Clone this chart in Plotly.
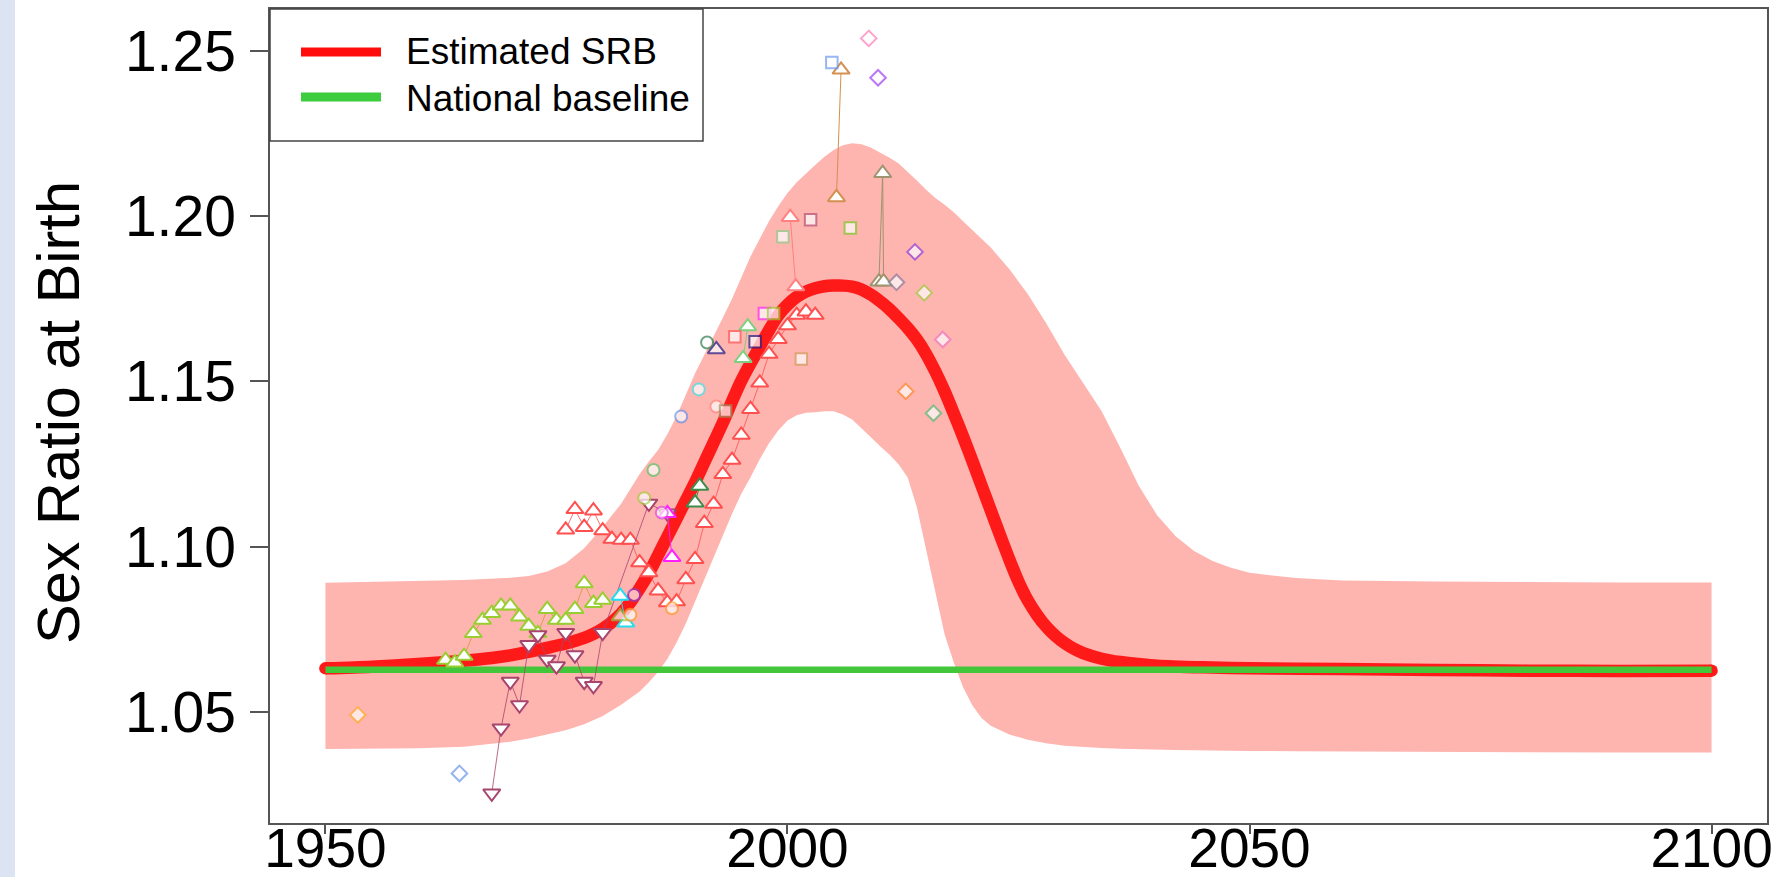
import plotly.graph_objects as go

# ---------------- data ----------------
srb_years = [1950, 1955, 1960, 1965, 1968, 1970, 1972, 1974, 1976, 1978, 1979, 1980, 1981, 1982, 1983,
             1984, 1985, 1986, 1987, 1988, 1989, 1990, 1991, 1992, 1993, 1994, 1995, 1996, 1997, 1998,
             1999, 2000, 2001, 2002, 2003, 2004, 2005, 2006, 2007, 2008, 2009, 2010, 2011, 2012, 2013,
             2014, 2015, 2016, 2017, 2018, 2019, 2020, 2021, 2022, 2023, 2024, 2025, 2026, 2027, 2028,
             2029, 2030, 2031, 2032, 2034, 2036, 2038, 2040, 2045, 2050, 2060, 2070, 2080, 2090, 2100]
srb_vals = [1.0632, 1.0637, 1.0645, 1.0655, 1.0663, 1.0671, 1.0682, 1.0694, 1.0707, 1.0724, 1.0736, 1.0752,
            1.0772, 1.0798, 1.0832, 1.0874, 1.0920, 1.0975, 1.1030, 1.1085, 1.1140, 1.1195, 1.1255, 1.1315,
            1.1375, 1.1440, 1.1502, 1.1555, 1.1605, 1.1655, 1.1700, 1.1732, 1.1756, 1.1772, 1.1782, 1.1788,
            1.1790, 1.1790, 1.1787, 1.1778, 1.1763, 1.1743, 1.1720, 1.1692, 1.1662, 1.1627, 1.1583, 1.1530,
            1.1470, 1.1403, 1.1333, 1.1260, 1.1185, 1.1110, 1.1035, 1.0962, 1.0894, 1.0838, 1.0794, 1.0758,
            1.0730, 1.0708, 1.0691, 1.0678, 1.0661, 1.0651, 1.0645, 1.0640, 1.0635, 1.0632, 1.0630, 1.0627,
            1.0625, 1.0624, 1.0625]

baseline_years = [1950, 2100]
baseline_vals = [1.0628, 1.0628]

band_years = [1950, 1955, 1960, 1965, 1970, 1972, 1974, 1976, 1978, 1980, 1982, 1984, 1985, 1986, 1987,
              1988, 1989, 1990, 1991, 1992, 1993, 1994, 1995, 1996, 1997, 1998, 1999, 2000, 2001, 2002,
              2003, 2004, 2005, 2006, 2007, 2008, 2009, 2010, 2011, 2012, 2013, 2014, 2015, 2016, 2017,
              2018, 2019, 2020, 2021, 2022, 2024, 2026, 2028, 2030, 2032, 2034, 2036, 2038, 2040, 2042,
              2044, 2046, 2048, 2050, 2055, 2060, 2070, 2080, 2090, 2100]
band_upper = [1.0891, 1.0893, 1.0895, 1.0899, 1.0906, 1.0911, 1.0925, 1.0950, 1.0995, 1.1060, 1.1130,
              1.1220, 1.1258, 1.1293, 1.1340, 1.1395, 1.1460, 1.1525, 1.1580, 1.1635, 1.1693, 1.1750,
              1.1815, 1.1878, 1.1932, 1.1985, 1.2030, 1.2070, 1.2103, 1.2130, 1.2155, 1.2180, 1.2200,
              1.2215, 1.2221, 1.2218, 1.2208, 1.2193, 1.2178, 1.2160, 1.2135, 1.2108, 1.2080, 1.2055,
              1.2035, 1.2012, 1.1985, 1.1960, 1.1932, 1.1905, 1.1840, 1.1765, 1.1676, 1.1580, 1.1495,
              1.1410, 1.1300, 1.1185, 1.1095, 1.1032, 1.0987, 1.0957, 1.0936, 1.0921, 1.0905, 1.0898,
              1.0895, 1.0893, 1.0892, 1.0892]
band_lower = [1.0388, 1.0388, 1.0390, 1.0395, 1.0410, 1.0420, 1.0432, 1.0445, 1.0463, 1.0488, 1.0522,
              1.0562, 1.0590, 1.0622, 1.0660, 1.0710, 1.0768, 1.0835, 1.0900, 1.0965, 1.1035, 1.1100,
              1.1160, 1.1210, 1.1265, 1.1313, 1.1352, 1.1382, 1.1398, 1.1405, 1.1407, 1.1410, 1.1410,
              1.1400, 1.1385, 1.1360, 1.1332, 1.1305, 1.1280, 1.1250, 1.1210, 1.1120, 1.0995, 1.0860,
              1.0735, 1.0650, 1.0575, 1.0520, 1.0482, 1.0458, 1.0432, 1.0416, 1.0405, 1.0398, 1.0394,
              1.0391, 1.0389, 1.0387, 1.0386, 1.0385, 1.0384, 1.0383, 1.0382, 1.0382, 1.0381, 1.0380,
              1.0378, 1.0378, 1.0377, 1.0377]

# observation series (connected)
yg_tri_years = [1963, 1964, 1965, 1966, 1967, 1968, 1969, 1970, 1971, 1972, 1973, 1974, 1975, 1976, 1977,
                1978, 1979, 1980]
yg_tri_vals = [1.0657, 1.0649, 1.0669, 1.0738, 1.0778, 1.0799, 1.0821, 1.0821, 1.0788, 1.0760, 1.0738,
               1.0811, 1.0778, 1.0778, 1.0811, 1.0889, 1.0829, 1.0839]

red_tri_years = [1976, 1977, 1978, 1979, 1980, 1981, 1982, 1983, 1984, 1985, 1986, 1987, 1988, 1989, 1990,
                 1991, 1992, 1993, 1994, 1995, 1996, 1997, 1998, 1999, 2000, 2001, 2002, 2003]
red_tri_vals = [1.1051, 1.1113, 1.1059, 1.1109, 1.1049, 1.1023, 1.1020, 1.1020, 1.0952, 1.0922, 1.0867,
                1.0831, 1.0834, 1.0901, 1.0962, 1.1071, 1.1129, 1.1219, 1.1262, 1.1338, 1.1416, 1.1496,
                1.1583, 1.1628, 1.1669, 1.1701, 1.1711, 1.1701]

maroon_dtri_years = [1968, 1969, 1970, 1971, 1972, 1973, 1974, 1975, 1976, 1977, 1978, 1979, 1980, 1985, 1987]
maroon_dtri_vals = [1.0254, 1.0451, 1.0592, 1.0521, 1.0703, 1.0733, 1.0659, 1.0639, 1.0740, 1.0672, 1.0592,
                    1.0579, 1.0740, 1.1131, 1.1101]

salmon_tri_years = [2000.3, 2000.9]
salmon_tri_vals = [1.1997, 1.1787]
peru_tri_years = [2005.3, 2005.8]
peru_tri_vals = [1.2057, 1.2443]
khaki_tri_years = [2009.9, 2010.3, 2010.4]
khaki_tri_vals = [1.1802, 1.2130, 1.1802]
dkgreen_tri_years = [1990.0, 1990.5]
dkgreen_tri_vals = [1.1133, 1.1184]
ltgreen_tri_years = [1995.2, 1995.7]
ltgreen_tri_vals = [1.1570, 1.1666]
cyan_tri_years = [1981.9, 1982.5]
cyan_tri_vals = [1.0851, 1.0770]
magenta_tri_years = [1987.0, 1987.5]
magenta_tri_vals = [1.1101, 1.0968]

# single observations
single_years = [1981.9, 1992.3,
                1983.4, 1983.0, 1987.5, 1984.5, 1985.5, 1988.5, 1990.4, 1992.3, 1991.3, 1986.4,
                1993.3, 1994.3, 1996.5, 1997.5, 1998.5, 2001.5, 1999.5, 2002.5, 2006.8, 2004.8,
                1953.5, 1964.5, 2008.8, 2009.8, 2011.8, 2013.8, 2014.8, 2016.8, 2012.8, 2015.8]
single_vals = [1.0789, 1.1597,
               1.0854, 1.0794, 1.0814, 1.1147, 1.1232, 1.1394, 1.1476, 1.1424, 1.1618, 1.1103,
               1.1411, 1.1635, 1.1620, 1.1706, 1.1706, 1.1568, 1.1938, 1.1989, 1.1964, 1.2465,
               1.0491, 1.0314, 1.2538, 1.2419, 1.1800, 1.1892, 1.1768, 1.1627, 1.1470, 1.1404]
single_symbols = ['triangle-up', 'triangle-up',
                  'circle', 'circle', 'circle', 'circle', 'circle', 'circle', 'circle', 'circle', 'circle', 'circle',
                  'square', 'square', 'square', 'square', 'square', 'square', 'square', 'square', 'square', 'square',
                  'diamond', 'diamond', 'diamond', 'diamond', 'diamond', 'diamond', 'diamond', 'diamond', 'diamond', 'diamond']
single_colors = ['#8CC940', '#1E1E8C',
                 '#8A3FD1', '#FFA030', '#FFA030', '#A8D040', '#5CC96A', '#6A95EA', '#3EE6EE', '#FF8C84', '#2E7D4F', '#E050E0',
                 '#A09060', '#FF5A5A', '#22228A', '#FF2AFF', '#9ACD32', '#D4A060', '#8FD08F', '#B5557A', '#7CCC28', '#6A9AF0',
                 '#FFB030', '#6A95EA', '#FF7AB8', '#A040F0', '#8E7FA0', '#9040E0', '#A0D040', '#F07AC8', '#FF8C30', '#55C27A']

x_ticks = [1950, 2000, 2050, 2100]
y_ticks = [1.05, 1.10, 1.15, 1.20, 1.25]
y_ticktext = ['1.05', '1.10', '1.15', '1.20', '1.25']

# ---------------- layout helpers ----------------
W, H = 1780, 877
ML, MR, MT, MB = 270, 13, 9, 54
PW, PH = W - ML - MR, H - MT - MB


def px(x):
    return (x - ML) / PW


def py(y):
    return 1 - (y - MT) / PH


FONT = "Liberation Sans, Arial, Helvetica, sans-serif"

fig = go.Figure()

# uncertainty band
fig.add_trace(go.Scatter(x=band_years, y=band_lower, mode='lines', line=dict(width=0),
                         hoverinfo='skip', showlegend=False))
fig.add_trace(go.Scatter(x=band_years, y=band_upper, mode='lines', line=dict(width=0),
                         fill='tonexty', fillcolor='#FEB4AF', hoverinfo='skip', showlegend=False))

# estimated SRB
fig.add_trace(go.Scatter(x=srb_years, y=srb_vals, mode='lines',
                         line=dict(color='#FF1A1A', width=12.5, shape='spline', smoothing=0.8),
                         name='Estimated SRB', showlegend=False))
fig.add_trace(go.Scatter(x=[srb_years[0], srb_years[-1]], y=[srb_vals[0], srb_vals[-1]], mode='markers',
                         marker=dict(color='#FF1A1A', size=12.5, line=dict(width=0)),
                         hoverinfo='skip', showlegend=False))
# national baseline
fig.add_trace(go.Scatter(x=baseline_years, y=baseline_vals, mode='lines',
                         line=dict(color='#44C63A', width=6.5), name='National baseline', showlegend=False))

TRI = 15
OUTLINE = 2.0


def add_series(xs, ys, symbol, color, line_color=None, size=TRI):
    fig.add_trace(go.Scatter(
        x=xs, y=ys, mode='lines+markers',
        line=dict(color=line_color or color, width=1),
        marker=dict(symbol=symbol, size=size, color='white', line=dict(color=color, width=OUTLINE)),
        showlegend=False))


add_series(yg_tri_years, yg_tri_vals, 'triangle-up', '#9ACD32', line_color='rgba(215,150,60,0.8)')
add_series(red_tri_years, red_tri_vals, 'triangle-up', '#FF5050', line_color='rgba(255,80,80,0.8)')
add_series(maroon_dtri_years, maroon_dtri_vals, 'triangle-down', '#A8456E', line_color='rgba(168,69,110,0.8)')
add_series(salmon_tri_years, salmon_tri_vals, 'triangle-up', '#FF8080')
add_series(peru_tri_years, peru_tri_vals, 'triangle-up', '#D49050')
add_series(khaki_tri_years, khaki_tri_vals, 'triangle-up', '#9E9470')
add_series(dkgreen_tri_years, dkgreen_tri_vals, 'triangle-up', '#3C8C4A')
add_series(ltgreen_tri_years, ltgreen_tri_vals, 'triangle-up', '#80CF80')
add_series(cyan_tri_years, cyan_tri_vals, 'triangle-up', '#22DDEE')
add_series(magenta_tri_years, magenta_tri_vals, 'triangle-up', '#FF20FF')

sizes = {'triangle-up': TRI, 'circle': 12, 'square': 11.5, 'diamond': 12}
fig.add_trace(go.Scatter(
    x=single_years, y=single_vals, mode='markers',
    marker=dict(symbol=single_symbols, size=[sizes[s] for s in single_symbols], color='white',
                line=dict(color=single_colors, width=OUTLINE)),
    showlegend=False))

# ---------------- decorations ----------------
shapes = [
    dict(type='rect', xref='paper', yref='paper', x0=px(0), x1=px(15), y0=py(H), y1=py(0),
         fillcolor='#DCE4F4', line=dict(width=0), layer='below'),
    dict(type='rect', xref='paper', yref='paper', x0=0, x1=px(703), y0=py(141), y1=1,
         fillcolor='white', line=dict(color='#444', width=1.5), layer='above'),
    dict(type='line', xref='paper', yref='paper', x0=px(301), x1=px(381), y0=py(52), y1=py(52),
         line=dict(color='#FF0D0D', width=9)),
    dict(type='line', xref='paper', yref='paper', x0=px(301), x1=px(381), y0=py(97), y1=py(97),
         line=dict(color='#3DCC3D', width=9)),
]
annotations = [
    dict(text='Estimated SRB', xref='paper', yref='paper', x=px(404), y=py(52), xanchor='left',
         yanchor='middle', showarrow=False, font=dict(size=37, color='black', family=FONT)),
    dict(text='National baseline', xref='paper', yref='paper', x=px(404), y=py(98), xanchor='left',
         yanchor='middle', showarrow=False, font=dict(size=37, color='black', family=FONT)),
    dict(text='Sex Ratio at Birth', xref='paper', yref='paper', x=px(58), y=py(413), xanchor='center',
         yanchor='middle', textangle=-90, showarrow=False, font=dict(size=59.5, color='black', family=FONT)),
]

fig.update_layout(
    width=W, height=H,
    margin=dict(l=ML, r=MR, t=MT, b=MB),
    template='none',
    paper_bgcolor='white', plot_bgcolor='white',
    showlegend=False,
    shapes=shapes, annotations=annotations,
    font=dict(family=FONT, color='black'),
    xaxis=dict(range=[1944, 2106], tickvals=x_ticks, ticks='outside', ticklen=9, tickwidth=1.5,
               tickcolor='#555', showline=True, mirror=True, linecolor='#555', linewidth=1.5,
               showgrid=False, zeroline=False, ticklabelstandoff=-33,
               tickfont=dict(size=55, color='black', family=FONT)),
    yaxis=dict(range=[1.0164, 1.2627], tickvals=y_ticks, ticktext=y_ticktext, ticks='outside', ticklen=18,
               tickwidth=1.5, tickcolor='#555', showline=True, mirror=True, linecolor='#555', linewidth=1.5,
               showgrid=False, zeroline=False, ticklabelstandoff=3,
               tickfont=dict(size=57, color='black', family=FONT)),
)

fig.write_html("out.html")
